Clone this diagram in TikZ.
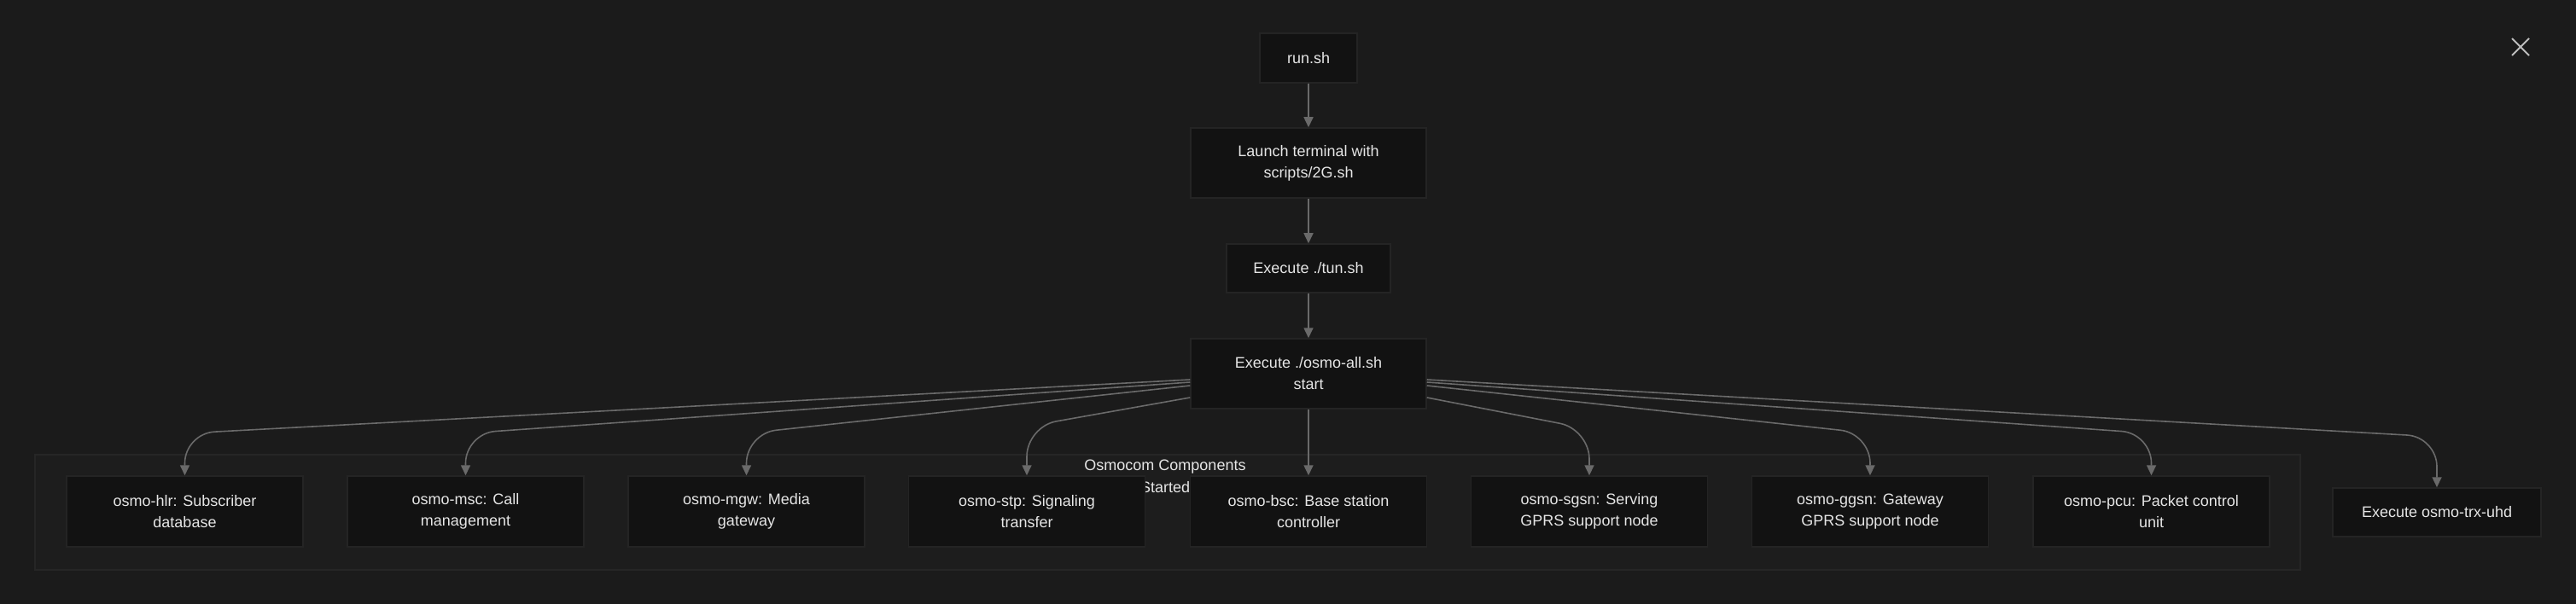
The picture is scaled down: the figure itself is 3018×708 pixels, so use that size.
\documentclass[tikz,border=0pt]{standalone}
\usepackage{fontspec}
\setmainfont{Liberation Sans}
\usetikzlibrary{arrows.meta}

\definecolor{bgc}{HTML}{1B1B1B}
\definecolor{boxfill}{HTML}{121212}
\definecolor{boxline}{HTML}{242424}
\definecolor{grpfill}{HTML}{1D1D1D}
\definecolor{grpline}{HTML}{262626}
\definecolor{txt}{HTML}{E6E6E6}
\definecolor{wire}{HTML}{6A6A6A}

\tikzset{
  box/.style={draw=boxline, fill=boxfill, line width=1.5pt, text=txt,
    align=center, inner sep=0pt, minimum width=277pt, minimum height=83pt,
    font=\fontsize{18}{25}\selectfont},
  edge/.style={draw=wire, line width=1.6pt,
    -{Triangle[length=12pt,width=11pt]}},
}

\begin{document}
\begin{tikzpicture}[x=1pt,y=-1pt]
    \fill[bgc] (0,0) rectangle (3018,708);
    \useasboundingbox (0,0) rectangle (3018,708);

    % top chain
    \node[box, minimum width=114pt, minimum height=58pt] (run) at (1533,68) {run.sh};
    \node[box, minimum width=276pt, minimum height=82pt] (launch) at (1533,191) {Launch terminal with\\scripts/2G.sh};
    \node[box, minimum width=192pt, minimum height=57pt] (tun) at (1533,314.5) {Execute ./tun.sh};
    \node[box, minimum width=276pt, minimum height=82pt] (all) at (1533,438) {Execute ./osmo-all.sh\\start};

    % group
    \draw[fill=grpfill, draw=grpline, line width=1.5pt] (41,533) rectangle (2695,668);
    \node[text=txt, align=center, font=\fontsize{18}{26}\selectfont] (grp) at (1365,558) {Osmocom Components\\Started};

    \node[box] (hlr) at (216.5,599.5) {osmo-hlr: Subscriber\\database};
    \node[box] (msc) at (545.5,599.5) {osmo-msc: Call\\management};
    \node[box] (mgw) at (874.5,599.5) {osmo-mgw: Media\\gateway};
    \node[box] (stp) at (1203,599.5) {osmo-stp: Signaling\\transfer};
    \node[box] (bsc) at (1533,599.5) {osmo-bsc: Base station\\controller};
    \node[box] (sgsn) at (1862,599.5) {osmo-sgsn: Serving\\GPRS support node};
    \node[box] (ggsn) at (2191,599.5) {osmo-ggsn: Gateway\\GPRS support node};
    \node[box] (pcu) at (2520.5,599.5) {osmo-pcu: Packet control\\unit};
    \node[box, minimum width=244pt, minimum height=57pt] (trx) at (2855,600.5) {Execute osmo-trx-uhd};

    % edges
    \draw[edge] (run) -- (launch);
    \draw[edge] (launch) -- (tun);
    \draw[edge] (tun) -- (all);
    \draw[edge] (all) -- (bsc);
    \foreach \n/\s/\b in {hlr/7/508, msc/10/508, mgw/14/508, stp/28/500}
        \draw[edge, rounded corners=35pt] ([yshift=-\s pt]all.west) -- (\n.north |- 0,\b) -- (\n.north);
    \foreach \n/\s/\b in {trx/7/512, pcu/10/508, ggsn/14/508, sgsn/28/503}
        \draw[edge, rounded corners=35pt] ([yshift=-\s pt]all.east) -- (\n.north |- 0,\b) -- (\n.north);

    % close button
    \draw[draw=txt!80!bgc, line width=2pt] (2943,45) -- (2963,65) (2963,45) -- (2943,65);
\end{tikzpicture}
\end{document}
